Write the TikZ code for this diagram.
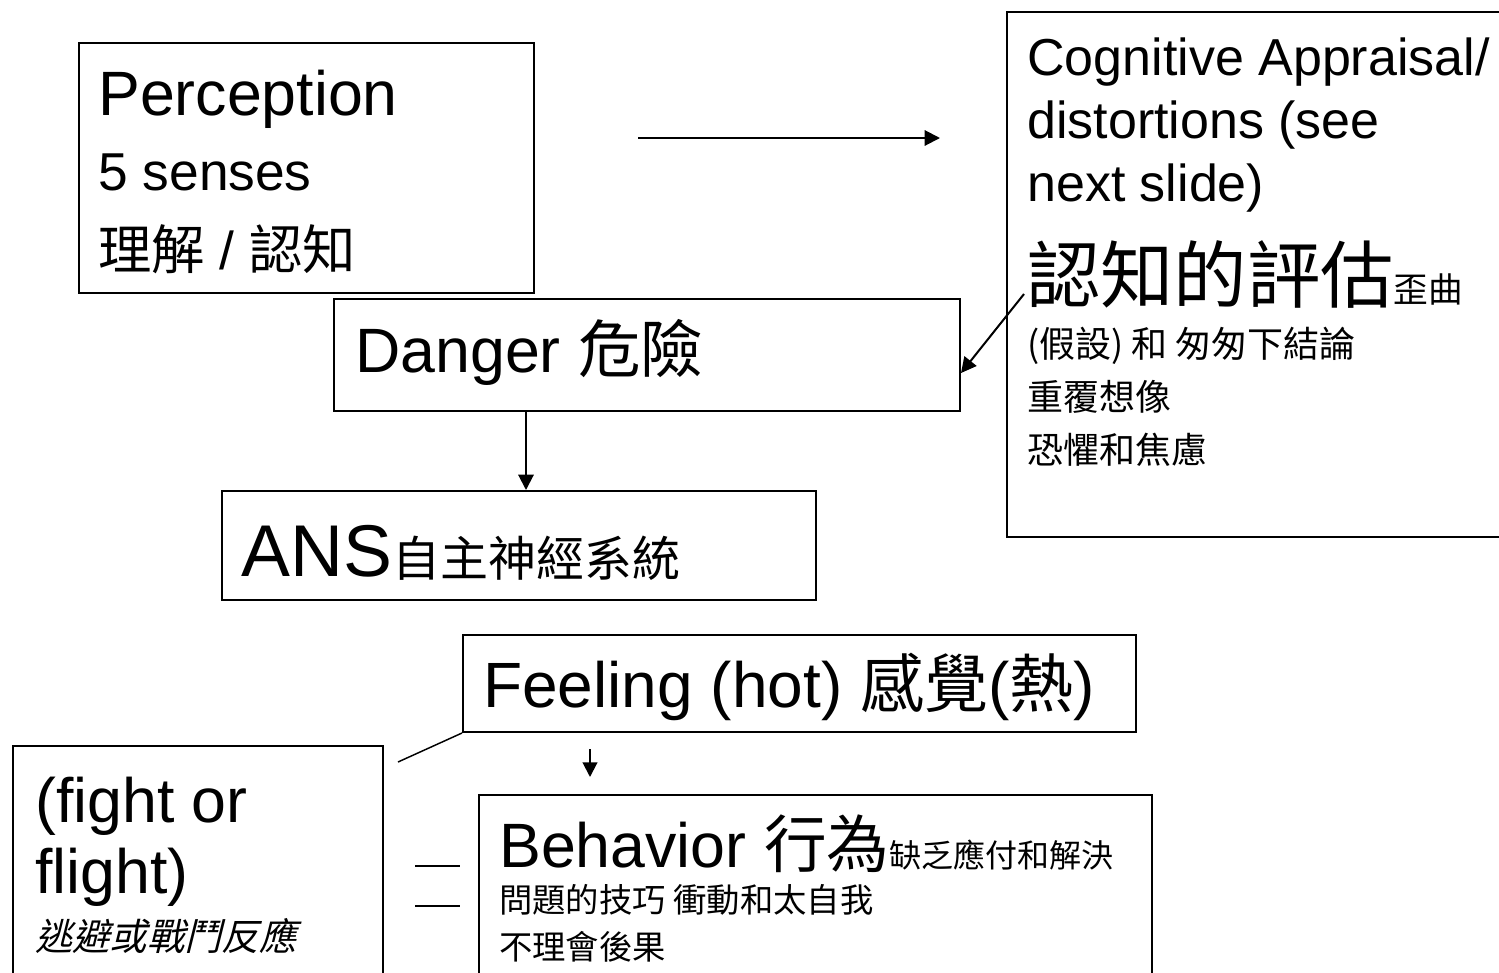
\documentclass[tikz,border=0pt]{standalone}
\usepackage{fontspec}
\setmainfont{Liberation Sans}
\newfontfamily\cjk{Noto Sans CJK TC}
\newfontfamily\cjkit{Noto Sans CJK TC}[FakeSlant=0.25]
\usetikzlibrary{arrows.meta}
\newcommand{\fsz}[1]{\fontsize{#1}{#1}\selectfont}
\begin{document}
\begin{tikzpicture}[x=0.75pt,y=-0.75pt,
  box/.style={draw,line width=1.5pt,inner sep=0pt,anchor=north west,rectangle},
  txt/.style={inner sep=0pt,anchor=base west},
  conn/.style={line width=1.5pt},
  thinline/.style={line width=1.1pt},
  arr/.style={conn,-{Triangle[length=11.5pt,width=11.5pt]}},
  arrsmall/.style={conn,-{Triangle[length=11pt,width=11pt]}}]
\useasboundingbox (0,0) rectangle (1499,972);
\clip (0,0) rectangle (1499,972);

% boxes
\node[box,minimum width=341.25pt,minimum height=187.5pt] (perc) at (78,42) {};
\node[box,minimum width=450pt,minimum height=393.75pt] (cog) at (1006,11) {};
\node[box,minimum width=469.5pt,minimum height=84pt] (danger) at (333,298) {};
\node[box,minimum width=445.5pt,minimum height=81.75pt] (ans) at (221,490) {};
\node[box,minimum width=504.75pt,minimum height=72.75pt] (feel) at (462,634) {};
\node[box,minimum width=277.5pt,minimum height=225pt] (fight) at (12,745) {};
\node[box,minimum width=504.75pt,minimum height=187.5pt] (behav) at (478,794) {};

% Perception texts
\node[txt,font=\fsz{47pt}] (p1) at (98,115) {Perception};
\node[txt,font=\fsz{40pt}] (p2) at (98,190) {5 senses};
\node[txt,font=\fsz{40pt}] (p3) at (98,269) {{\cjk 理解} / {\cjk 認知}};

% Cognitive texts
\node[txt,font=\fsz{39pt}] (c1) at (1027,75) {Cognitive Appraisal/};
\node[txt,font=\fsz{39pt}] (c2) at (1027,138) {distortions (see};
\node[txt,font=\fsz{39pt}] (c3) at (1027,201) {next slide)};
\node[txt] (c4) at (1027,302) {{\cjk\fsz{55pt}認知的評估}{\cjk\fsz{26pt}歪曲}};
\node[txt,font=\fsz{27pt}] (c5) at (1027,357) {\cjk (假設) 和 匆匆下結論};
\node[txt,font=\fsz{27pt}] (c6) at (1027,410) {\cjk 重覆想像};
\node[txt,font=\fsz{27pt}] (c7) at (1027,463) {\cjk 恐懼和焦慮};

% Danger
\node[txt,font=\fsz{47pt}] (d1) at (355,372) {Danger {\cjk 危險}};
% ANS
\node[txt] (a1) at (241,576) {{\fsz{55pt}ANS}{\cjk\fsz{36pt}自主神經系統}};
% Feeling
\node[txt,font=\fsz{48pt}] (f1) at (483,707) {Feeling (hot) {\cjk 感覺}({\cjk 熱})};
% fight
\node[txt,font=\fsz{47pt}] (g1) at (35,822) {(fight or};
\node[txt,font=\fsz{47pt}] (g2) at (35,893) {flight)};
\node[txt,font=\fsz{28pt}] (g3) at (35,950) {\cjkit 逃避或戰鬥反應};
% Behavior
\node[txt] (b1) at (499,867) {{\fsz{47pt}Behavior {\cjk 行為}}{\cjk\fsz{24pt}缺乏應付和解決}};
\node[txt,font=\fsz{25pt}] (b2) at (499,912) {\cjk 問題的技巧 衝動和太自我};
\node[txt,font=\fsz{25pt}] (b3) at (499,959) {\cjk 不理會後果};

% connectors
\coordinate (tas) at (638,138);
\coordinate (tae) at (940,138);
\draw[arr] (tas) -- (tae);

\coordinate (cs) at (1024,294);
\draw[arr] (cs) -- ([yshift=-13.5pt]danger.east);

\coordinate (dx) at (526,0);
\draw[arr] (danger.south -| dx) -- (ans.north -| dx);

\coordinate (fx) at (590,0);
\draw[arrsmall,shorten <=12pt,shorten >=12.75pt] (feel.south -| fx) -- (behav.north -| fx);

\coordinate (fl) at (398,762);
\draw[thinline] (feel.south west) -- (fl);

\coordinate (e1a) at (415,866); \coordinate (e1b) at (460,866);
\coordinate (e2a) at (415,906); \coordinate (e2b) at (460,906);
\draw[thinline] (e1a) -- (e1b);
\draw[thinline] (e2a) -- (e2b);
\end{tikzpicture}
\end{document}
